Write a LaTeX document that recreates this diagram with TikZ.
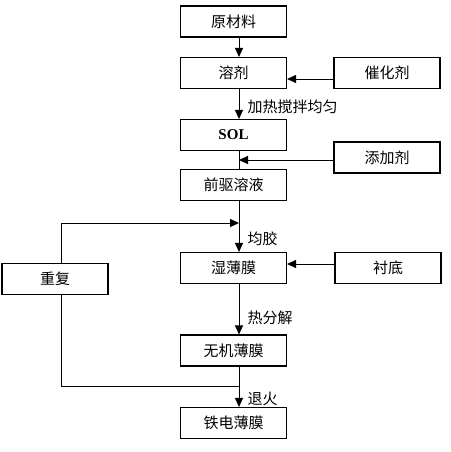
\documentclass[tikz,border=0pt]{standalone}
\usepackage{fontspec}
\setmainfont{Liberation Serif}
\newfontfamily\cjk{Noto Sans CJK SC}
\usetikzlibrary{arrows.meta}

\begin{document}
\begin{tikzpicture}[x=1pt,y=-1pt,
  box/.style={draw, line width=1.1pt, minimum width=106pt, minimum height=31pt, inner sep=0pt, font=\cjk\fontsize{15}{17}\selectfont},
  link/.style={line width=1pt},
  arr/.style={link, -{Triangle[length=9pt,width=8pt]}},
  lbl/.style={font=\cjk\fontsize{15}{17}\selectfont, anchor=west, inner sep=0pt, xshift=8pt}]
  \useasboundingbox (0,0) rectangle (450,452);

  \node[box] (raw) at (233.5,21.5) {原材料};
  \node[box] (solvent) at (233.5,73) {溶剂};
  \node[box, font=\bfseries\fontsize{15}{17}\selectfont] (sol) at (233.5,135) {SOL};
  \node[box] (precursor) at (233.5,185) {前驱溶液};
  \node[box] (wetfilm) at (233.5,268) {湿薄膜};
  \node[box] (inorganic) at (233.5,350.5) {无机薄膜};
  \node[box] (ferro) at (233.5,423) {铁电薄膜};
  \node[box] (catalyst) at (387,73) {催化剂};
  \node[box] (additive) at (387,157.5) {添加剂};
  \node[box] (substrate) at (388,268) {衬底};
  \node[box] (repeat) at (55,279) {重复};

  % main line
  \coordinate (trunk) at (239,0);
  \coordinate (loopin) at (239,223);
  \coordinate (loopout) at (239,386);
  \draw[arr] (raw.south -| trunk) -- (solvent.north -| trunk);
  \draw[arr] (solvent.south -| trunk) -- node[lbl, pos=0.6]{加热搅拌均匀} (sol.north -| trunk);
  \draw[link] (sol.south -| trunk) -- (precursor.north -| trunk);
  \draw[arr] (precursor.south -| trunk) -- node[lbl, pos=0.74]{均胶} (wetfilm.north -| trunk);
  \draw[arr] (wetfilm.south -| trunk) -- node[lbl, pos=0.67]{热分解} (inorganic.north -| trunk);
  \draw[arr] (inorganic.south -| trunk) -- node[lbl, pos=0.8]{退火} (ferro.north -| trunk);

  % side inputs
  \draw[arr] ([yshift=-6pt]catalyst.west) -- ([yshift=-6pt]solvent.east);
  \draw[arr] ([yshift=-2.5pt]additive.west) -- ([yshift=-2.5pt]additive.west -| trunk);
  \draw[arr] ([yshift=4pt]substrate.west) -- ([yshift=4pt]wetfilm.east);

  % repeat loop
  \draw[arr] ([xshift=6pt]repeat.north) |- (loopin);
  \draw[link] ([xshift=6pt]repeat.south) |- (loopout);
\end{tikzpicture}
\end{document}
